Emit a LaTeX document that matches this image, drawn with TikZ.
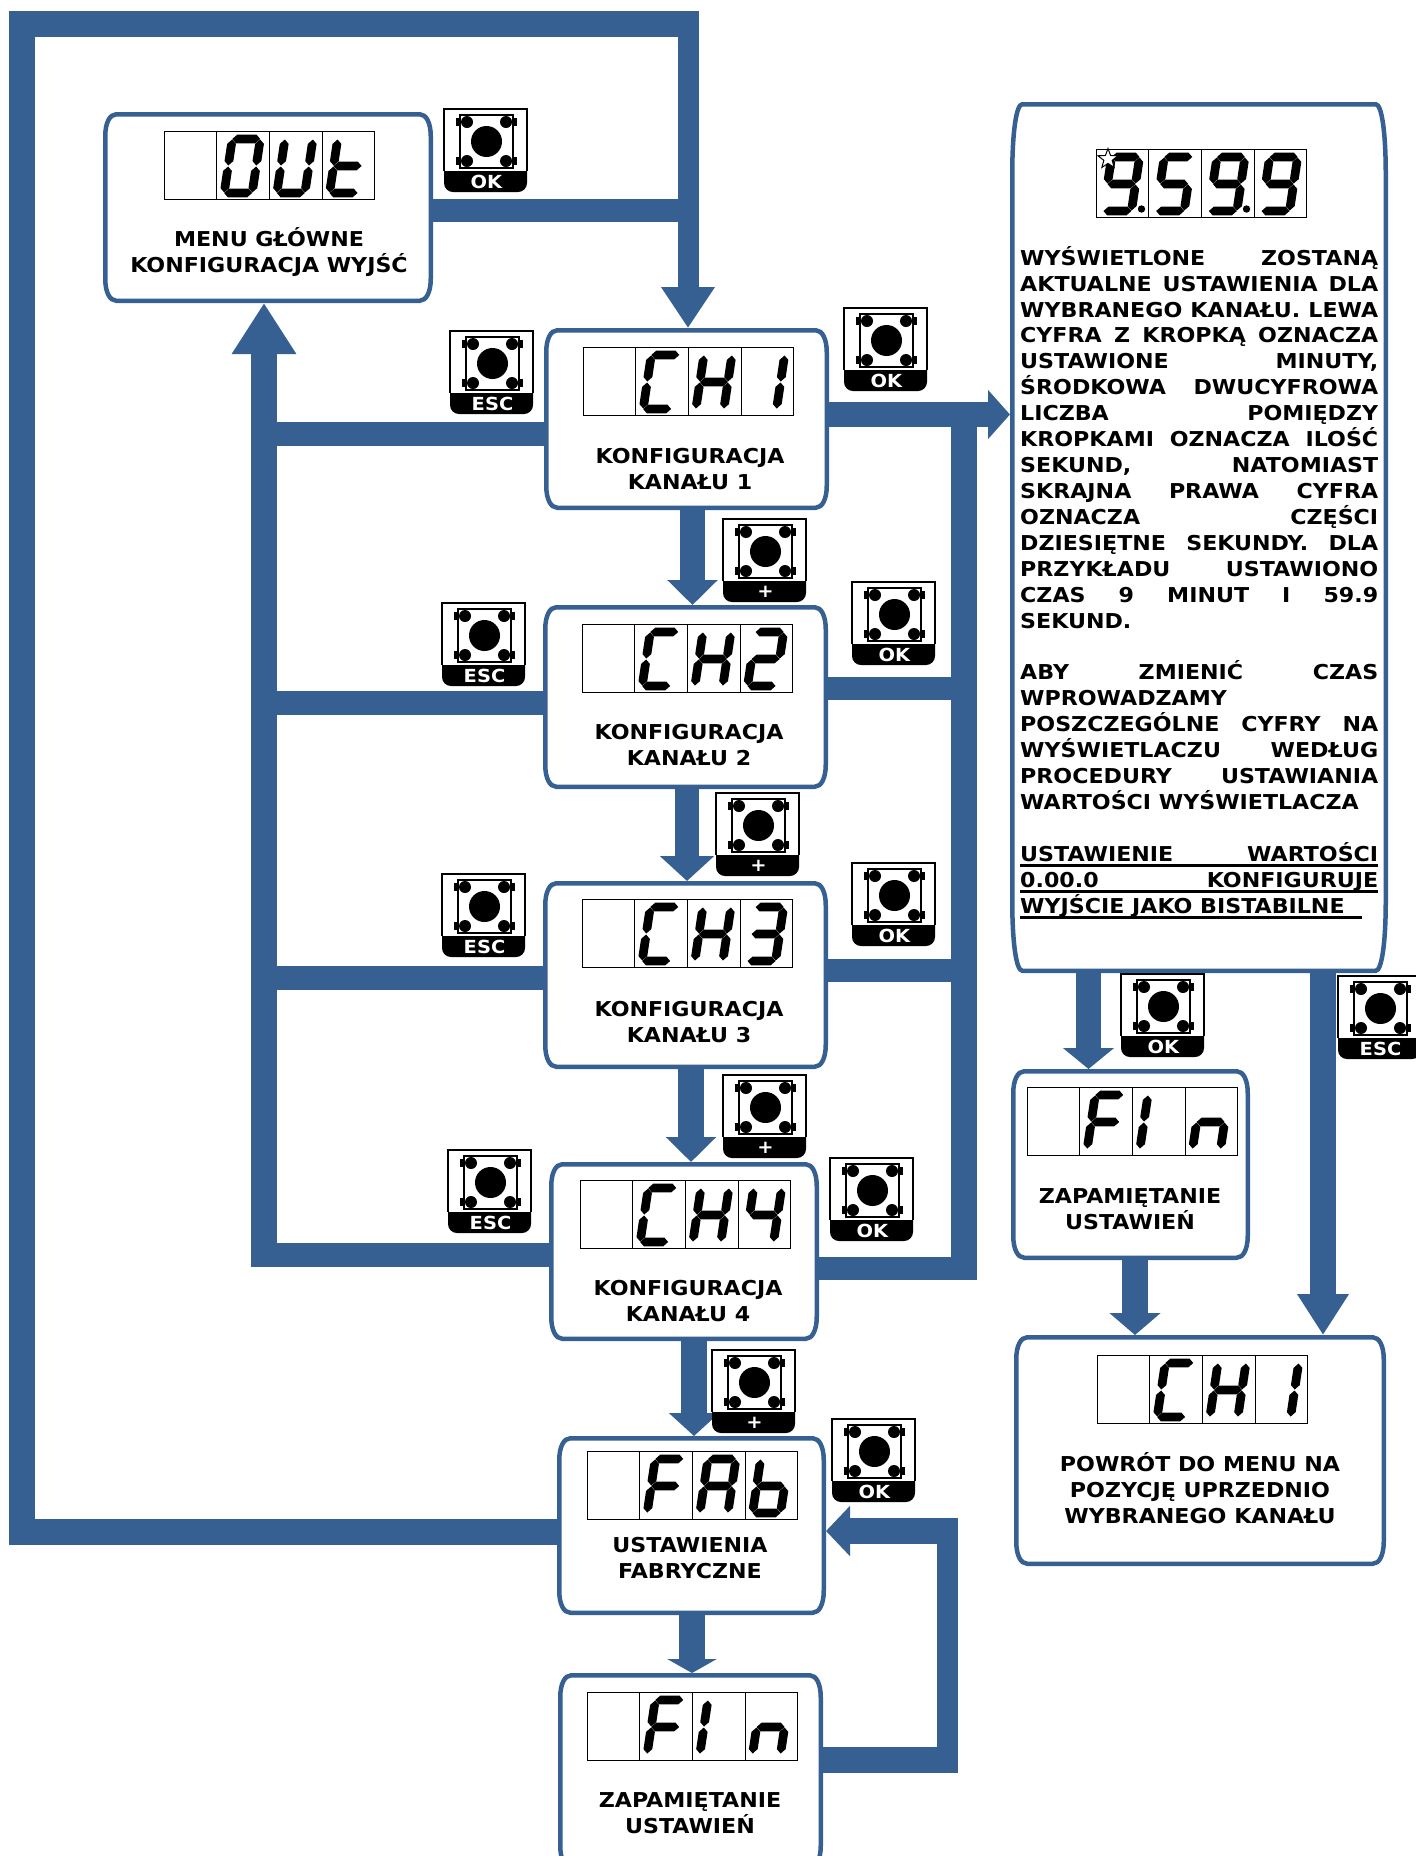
\documentclass[tikz,border=0pt]{standalone}
\usepackage{fontspec}
\setmainfont{DejaVu Sans}[BoldFeatures={FakeStretch=1.08}]
\usetikzlibrary{calc,shapes.geometric,arrows.meta}
\definecolor{flowblue}{HTML}{376092}
\tikzset{
	boxnode/.style={rectangle, inner sep=0, outer sep=0},
	frame/.style={draw=flowblue, line width=4.5pt, fill=white},
	bar/.style={draw=flowblue, line width=#1pt},
	bar/.default=24,
	flowhead/.style 2 args={-{Triangle[width=#1pt,length=#2pt]}, flowblue},
	boxlabel/.style={inner sep=0, align=center, font=\fontsize{20.5}{26}\selectfont\bfseries},
	keylabel/.style={inner sep=0, text=white, font=\fontsize{18}{18}\selectfont\bfseries},
	cellbox/.style={draw=black, line width=1pt}
}
% segments of one display digit
\newcommand{\hseg}[3]{\fill (#1,#3) -- (#1+4.4,#3-4.4) -- (#2-4.4,#3-4.4) -- (#2,#3) -- (#2-4.4,#3+4.4) -- (#1+4.4,#3+4.4) -- cycle;}
\newcommand{\vseg}[3]{\fill (#1,#2) -- (#1+4.4,#2+4.4) -- (#1+4.4,#3-4.4) -- (#1,#3) -- (#1-4.4,#3-4.4) -- (#1-4.4,#2+4.4) -- cycle;}
\newcommand{\sega}{\hseg{-14}{14}{-27}}
\newcommand{\segb}{\vseg{14}{-26.5}{-.5}}
\newcommand{\segc}{\vseg{14}{.5}{26.5}}
\newcommand{\segd}{\hseg{-14}{14}{27}}
\newcommand{\sege}{\vseg{-14}{.5}{26.5}}
\newcommand{\segf}{\vseg{-14}{-26.5}{-.5}}
\newcommand{\segg}{\hseg{-14}{14}{0}}
\newcommand{\lcdcell}[3]{
	\begin{scope}[shift={(#1,#2)}]
		\draw[cellbox] (0,0) rectangle (52.7,68);
		\begin{scope}[shift={(25.5,35)}, xslant=.15]
			\foreach \s in {#3} {\csname seg\s\endcsname}
		\end{scope}
	\end{scope}
}
\newcommand{\lcd}[6]{
	\lcdcell{#1}{#2}{#3}
	\lcdcell{#1+52.7}{#2}{#4}
	\lcdcell{#1+105.4}{#2}{#5}
	\lcdcell{#1+158.1}{#2}{#6}
}
\newcommand{\keybtn}[4]{
	\begin{scope}[shift={(#2,#3)}]
		\fill (0,62) -- (83,62) [rounded corners=9pt] -- (83,83) -- (0,83) [sharp corners] -- cycle;
		\draw[line width=2.5pt] (0,62) -- (0,0) -- (83,0) -- (83,62);
		\draw[line width=1.2pt] (16,6) rectangle (69,59);
		\fill (42.5,32.5) circle (15.5);
		\foreach \px in {23,62} {
			\foreach \py in {13,52} {\fill (\px,\py) circle (6);}
		}
		\foreach \py in {13,52} {
			\fill (12,\py-4) rectangle (16,\py+4);
			\fill (69,\py-4) rectangle (73,\py+4);
		}
		\node[keylabel] (#1) at (42.5,73) {#4};
	\end{scope}
}
\newcommand{\roundframe}[3]{
	\coordinate (nw) at ($(#1.north west)+(2.25,2.25)$);
	\coordinate (ne) at ($(#1.north east)+(-2.25,2.25)$);
	\coordinate (se) at ($(#1.south east)+(-2.25,-2.25)$);
	\coordinate (sw) at ($(#1.south west)+(2.25,-2.25)$);
	\draw[frame] ($(nw)+(#2,0)$) -- ($(ne)+(-#2,0)$)
		.. controls ($(ne)+(-.4*#2,0)$) and ($(ne)+(0,.4*#3)$) .. ($(ne)+(0,#3)$)
		-- ($(se)+(0,-#3)$)
		.. controls ($(se)+(0,-.4*#3)$) and ($(se)+(-.4*#2,0)$) .. ($(se)+(-#2,0)$)
		-- ($(sw)+(#2,0)$)
		.. controls ($(sw)+(.4*#2,0)$) and ($(sw)+(0,-.4*#3)$) .. ($(sw)+(0,-#3)$)
		-- ($(nw)+(0,#3)$)
		.. controls ($(nw)+(0,.4*#3)$) and ($(nw)+(.4*#2,0)$) .. ($(nw)+(#2,0)$) -- cycle;
}
\newcommand{\jline}[1]{\makebox[358pt][s]{#1}}
\newcommand{\ruled}[2]{\rlap{\rule[-5.5pt]{#1pt}{3pt}}#2}

\begin{document}
\begin{tikzpicture}[x=1pt, y=-1pt]
	\useasboundingbox (0,0) rectangle (1416,1856);

	\node[boxnode, minimum width=330pt, minimum height=191pt] (out) at (268,207.5) {};
	\node[boxnode, minimum width=285pt, minimum height=182pt] (ch1) at (686.5,419) {};
	\node[boxnode, minimum width=285pt, minimum height=184pt] (ch2) at (685.5,697) {};
	\node[boxnode, minimum width=285pt, minimum height=188pt] (ch3) at (685.5,975) {};
	\node[boxnode, minimum width=270pt, minimum height=179pt] (ch4) at (684,1251.5) {};
	\node[boxnode, minimum width=269pt, minimum height=179pt] (fab) at (691.5,1525.5) {};
	\node[boxnode, minimum width=265pt, minimum height=197pt] (fin) at (690.5,1771.5) {};
	\node[boxnode, minimum width=378pt, minimum height=871pt] (panel) at (1199,537.5) {};
	\node[boxnode, minimum width=239pt, minimum height=191pt] (save) at (1130.5,1164.5) {};
	\node[boxnode, minimum width=372pt, minimum height=231pt] (back) at (1200,1450.5) {};

	\foreach \n in {out,ch1,ch2,ch3,ch4,fab,fin,save,back} {\roundframe{\n}{11}{22}}
	\roundframe{panel}{10}{70}

	% outer loop
	\coordinate (loop-sw) at (22,1532);
	\coordinate (loop-nw) at (22,24);
	\coordinate (loop-ne) at (699,24);
	\coordinate (out-join) at (688,210);
	\coordinate (loop-top) at (688,12);
	\draw[bar=26] (fab.west |- loop-sw) -- (loop-sw) -- (loop-nw) -- (loop-ne);
	\draw[bar=21, flowhead={51}{41}] (loop-top) -- (loop-top |- ch1.north);
	\draw[bar=23] (out.east |- out-join) -- (out-join);

	% ESC bus
	\coordinate (esc-bus) at (264,1267);
	\draw[bar=26, flowhead={61}{51}] (esc-bus) -- (esc-bus |- out.south);
	\foreach \n/\y in {ch1/433.5,ch2/703,ch3/977.5,ch4/1254.5} {
		\coordinate (esc-\n) at (251,\y);
		\draw[bar] (\n.west |- esc-\n) -- (esc-\n);
	}

	% OK bus
	\coordinate (ok-ch1) at (964,414.5);
	\coordinate (ok-ch2) at (977,688.5);
	\coordinate (ok-ch3) at (977,970);
	\coordinate (ok-ch4) at (977,1268.5);
	\draw[bar=26] (ok-ch1) -- (964,1280);
	\draw[bar=25, flowhead={48}{22}] (ch1.east |- ok-ch1) -- (panel.west |- ok-ch1);
	\foreach \n in {ch2,ch3,ch4} {\draw[bar=23] (\n.east |- ok-\n) -- (ok-\n);}

	% steps down
	\foreach \a/\b/\x/\w/\hw/\hl in {ch1/ch2/692.5/25/49/25,ch2/ch3/687/24/53/25,ch3/ch4/691/26/49/25,ch4/fab/694/26/49/23,fab/fin/692/26/49/14,save/back/1135/26/50/22} {
		\coordinate (down-\a) at (\x,0);
		\draw[bar=\w, flowhead={\hw}{\hl}] (\a.south -| down-\a) -- (\b.north -| down-\a);
	}
	\coordinate (panel-ok) at (1088.5,0);
	\coordinate (panel-esc) at (1323,0);
	\draw[bar=25, flowhead={50}{21}] (panel.south -| panel-ok) -- (save.north -| panel-ok);
	\draw[bar=26, flowhead={49}{41}] (panel.south -| panel-esc) -- (back.north -| panel-esc);

	% back to factory settings
	\coordinate (fin-ne) at (958,1760);
	\coordinate (fin-nw) at (947.5,1531);
	\draw[bar=26] (fin.east |- fin-ne) -- (fin-ne);
	\draw[bar=21] (947.5,1773) -- (fin-nw);
	\draw[bar=26, flowhead={49}{24}] (958,1531) -- (fab.east |- fin-nw);

	% displays
	\lcd{164}{131}{}{a,b,c,d,e,f}{b,c,d,e,f}{d,e,f,g}
	\lcd{583}{347}{}{a,d,e,f}{b,c,e,f,g}{b,c}
	\lcd{582}{624}{}{a,d,e,f}{b,c,e,f,g}{a,b,d,e,g}
	\lcd{582}{899}{}{a,d,e,f}{b,c,e,f,g}{a,b,c,d,g}
	\lcd{580}{1180}{}{a,d,e,f}{b,c,e,f,g}{b,c,f,g}
	\lcd{587}{1451}{}{a,e,f,g}{a,b,c,e,f,g}{c,d,e,f,g}
	\lcd{587}{1692}{}{a,e,f,g}{e,f}{c,e,g}
	\lcd{1027}{1087}{}{a,e,f,g}{e,f}{c,e,g}
	\lcd{1097}{1355}{}{a,d,e,f}{b,c,e,f,g}{b,c}
	\lcd{1096}{149}{a,b,c,d,f,g}{a,c,d,f,g}{a,b,c,d,f,g}{a,b,c,d,f,g}
	\fill (1141.5,209) circle (3.7);
	\fill (1246.5,209) circle (3.7);
	\node[star, star points=5, star point ratio=2.4, draw=black, fill=white, line width=1pt, inner sep=0, minimum size=21pt] (memstar) at (1108,159) {};

	% keys
	\keybtn{key-out}{444}{109}{OK}
	\keybtn{key-esc1}{450}{331}{ESC}
	\keybtn{key-ok1}{844}{308}{OK}
	\keybtn{key-plus1}{723}{519}{+}
	\keybtn{key-esc2}{442}{603}{ESC}
	\keybtn{key-ok2}{852}{582}{OK}
	\keybtn{key-plus2}{716}{793}{+}
	\keybtn{key-esc3}{442}{874}{ESC}
	\keybtn{key-ok3}{852}{863}{OK}
	\keybtn{key-plus3}{723}{1075}{+}
	\keybtn{key-esc4}{448}{1150}{ESC}
	\keybtn{key-ok4}{830}{1158}{OK}
	\keybtn{key-plus4}{712}{1350}{+}
	\keybtn{key-fab}{832}{1419}{OK}
	\keybtn{key-save}{1121}{974}{OK}
	\keybtn{key-back}{1338}{976}{ESC}

	% labels
	\node[boxlabel] (out-text) at (269,252) {MENU GŁÓWNE\\KONFIGURACJA WYJŚĆ};
	\node[boxlabel] (ch1-text) at (690,469) {KONFIGURACJA\\KANAŁU 1};
	\node[boxlabel] (ch2-text) at (689,745) {KONFIGURACJA\\KANAŁU 2};
	\node[boxlabel] (ch3-text) at (689,1022) {KONFIGURACJA\\KANAŁU 3};
	\node[boxlabel] (ch4-text) at (688,1301) {KONFIGURACJA\\KANAŁU 4};
	\node[boxlabel] (fab-text) at (690,1558) {USTAWIENIA\\FABRYCZNE};
	\node[boxlabel] (fin-text) at (690,1813) {ZAPAMIĘTANIE\\USTAWIEŃ};
	\node[boxlabel] (save-text) at (1130,1209) {ZAPAMIĘTANIE\\USTAWIEŃ};
	\node[boxlabel] (back-text) at (1200,1488) {POWRÓT DO MENU NA\\POZYCJĘ UPRZEDNIO\\WYBRANEGO KANAŁU};

	\node[boxlabel, font=\fontsize{20.5}{25.92}\selectfont\bfseries, align=left, anchor=north west] (panel-text) at (1020,246) {
		\jline{WYŚWIETLONE ZOSTANĄ}\\
		\jline{AKTUALNE USTAWIENIA DLA}\\
		\jline{WYBRANEGO KANAŁU. LEWA}\\
		\jline{CYFRA Z KROPKĄ OZNACZA}\\
		\jline{USTAWIONE MINUTY,}\\
		\jline{ŚRODKOWA DWUCYFROWA}\\
		\jline{LICZBA POMIĘDZY}\\
		\jline{KROPKAMI OZNACZA ILOŚĆ}\\
		\jline{SEKUND, NATOMIAST}\\
		\jline{SKRAJNA PRAWA CYFRA}\\
		\jline{OZNACZA CZĘŚCI}\\
		\jline{DZIESIĘTNE SEKUNDY. DLA}\\
		\jline{PRZYKŁADU USTAWIONO}\\
		\jline{CZAS 9 MINUT I 59.9}\\
		SEKUND.\\
		\mbox{}\\
		\jline{ABY ZMIENIĆ CZAS}\\
		WPROWADZAMY\\
		\jline{POSZCZEGÓLNE CYFRY NA}\\
		\jline{WYŚWIETLACZU WEDŁUG}\\
		\jline{PROCEDURY USTAWIANIA}\\
		WARTOŚCI WYŚWIETLACZA\\
		\mbox{}\\
		\ruled{358}{\jline{USTAWIENIE WARTOŚCI}}\\
		\ruled{358}{\jline{0.00.0 KONFIGURUJE}}\\
		\ruled{342}{WYJŚCIE JAKO BISTABILNE}
	};
\end{tikzpicture}
\end{document}
